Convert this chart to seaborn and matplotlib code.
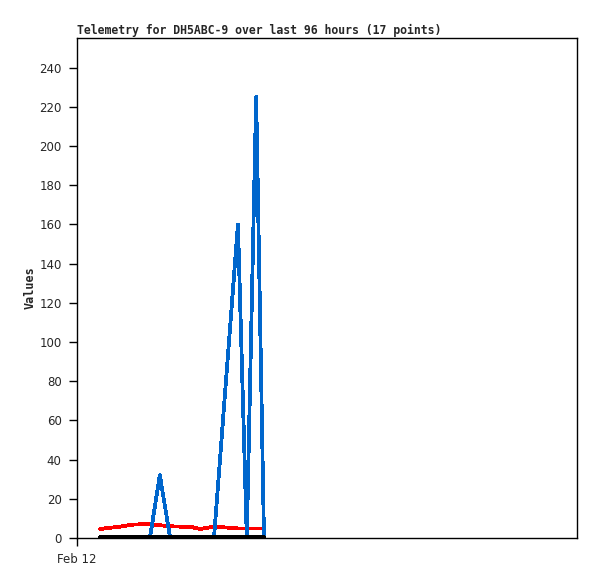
import matplotlib
matplotlib.use("Agg")
import matplotlib.pyplot as plt
import pandas as pd
import seaborn as sns

# ----------------------------------------------------------
# DATA (hours since Feb 12 00:00)
# ----------------------------------------------------------
hours = [4.4, 6.3, 8.3, 10.6, 12.3, 14.0, 15.9, 17.9, 19.8,
         21.7, 23.6, 26.3, 28.4, 30.9, 32.6, 34.4, 35.9]
series_red = [4.6, 5.2, 5.8, 6.8, 7.0, 7.0, 6.5, 6.0, 5.8,
              5.8, 4.6, 5.8, 5.4, 4.9, 4.8, 4.8, 4.8]
series_blue = [0, 0, 0, 0, 0, 0, 32, 0, 0,
               0, 0, 0, 73, 160, 0, 225, 0]
series_black = [0] * 17

x_tick_pos = [0]
x_tick_labels = ["Feb 12"]
y_ticks = list(range(0, 241, 20))

df = pd.DataFrame({
    "hours": hours,
    "red": series_red,
    "blue": series_blue,
    "black": series_black,
})

sns.set_style("white")

fig = plt.figure(figsize=(5.97, 5.79), dpi=100)
ax = fig.add_axes([77 / 597, 41 / 579, 500 / 597, 500 / 579])

# draw order: red, blue, then the zero line on top
for col, colour, lw in [("red", "#ff0000", 2), ("blue", "#0066cc", 2),
                        ("black", "#000000", 3)]:
    sns.lineplot(data=df, x="hours", y=col, color=colour, linewidth=lw,
                 ax=ax, sort=False, estimator=None, antialiased=False)

ax.lines[-1].set_zorder(5)

ax.set_xlim(0, 96)
ax.set_ylim(0, 255.1)
ax.set_xticks(x_tick_pos)
ax.set_xticklabels(x_tick_labels)
ax.set_yticks(y_ticks)
ax.tick_params(axis="both", direction="out", length=6, width=1,
               color="black", labelsize=8.5, pad=5, left=True, bottom=True)
for sp in ax.spines.values():
    sp.set_color("black")
    sp.set_linewidth(1)

ax.set_xlabel("")
ax.set_ylabel("Values", family="DejaVu Sans Mono", fontweight="bold",
              fontsize=8.5, labelpad=2)
ax.set_title("Telemetry for DH5ABC-9 over last 96 hours (17 points)",
             loc="left", family="DejaVu Sans Mono", fontweight="bold",
             fontsize=8.3, pad=3)

fig.savefig("out.png", dpi=100)
